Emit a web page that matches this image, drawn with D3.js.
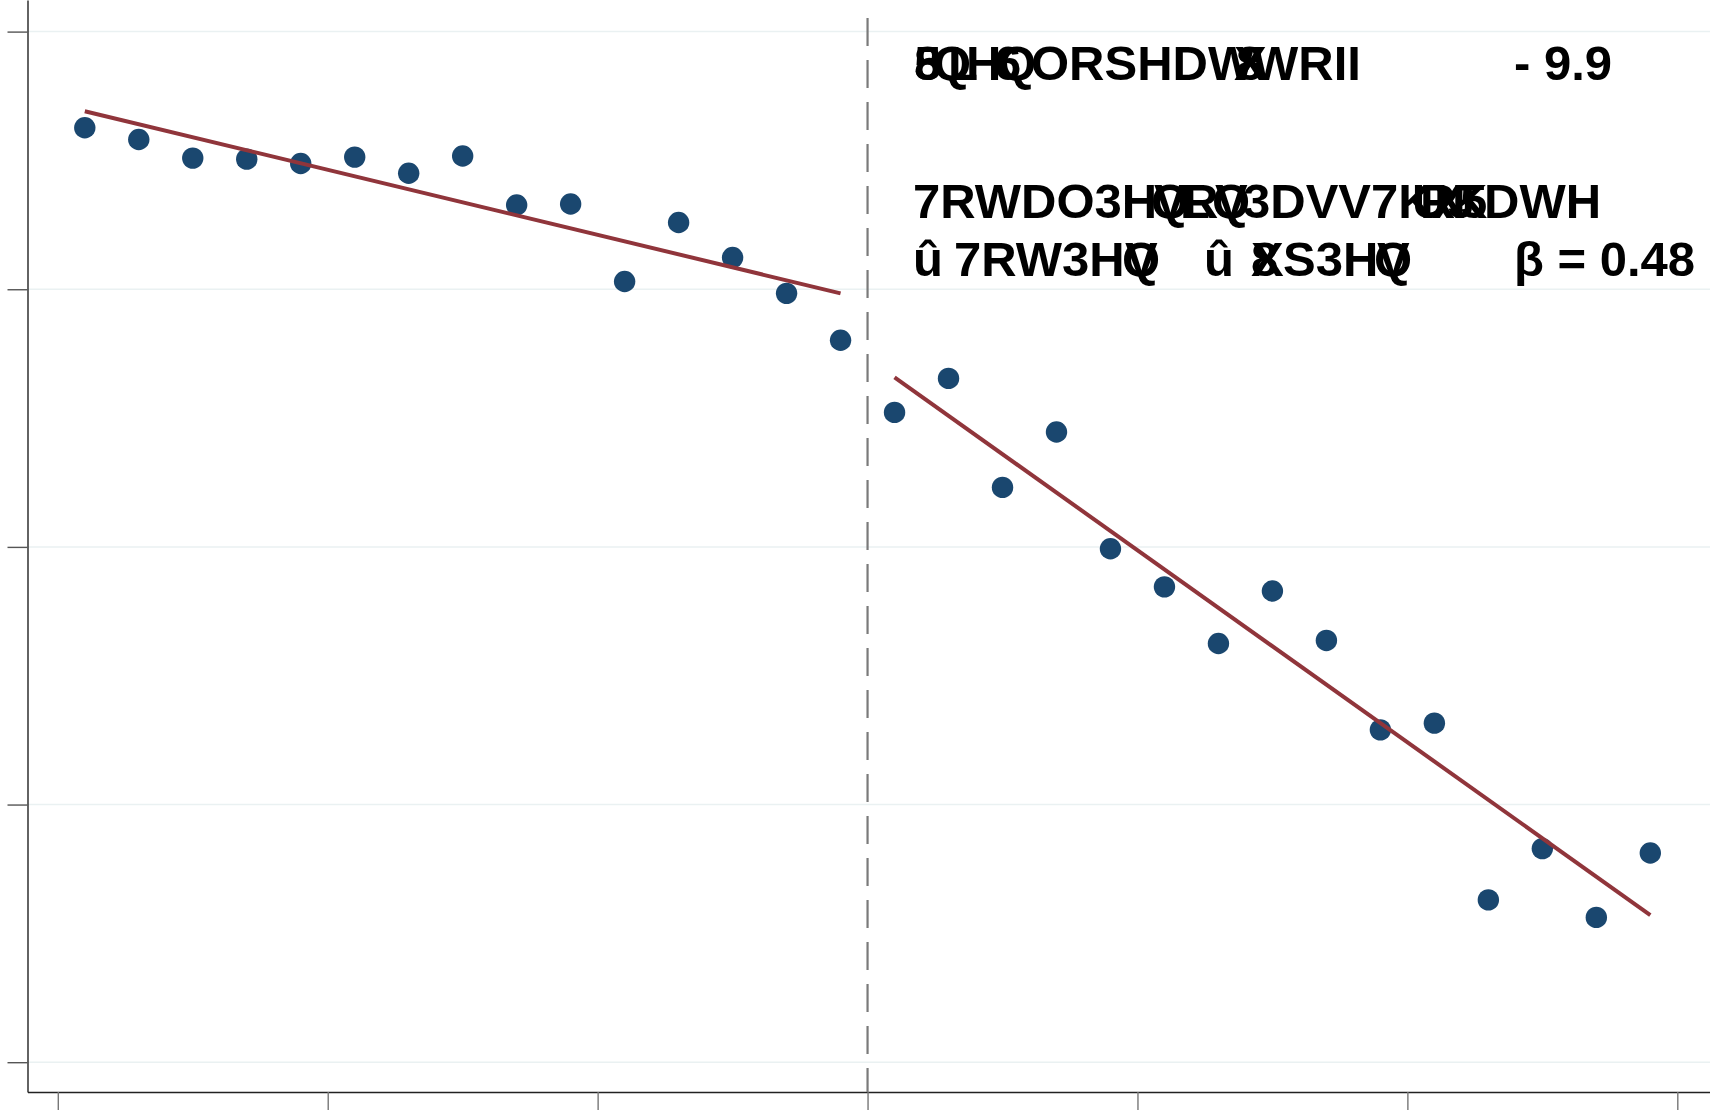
<!DOCTYPE html>
<html>
<head>
<meta charset="utf-8">
<script src="https://cdn.jsdelivr.net/npm/d3@7"></script>
<style>
  html, body { margin: 0; padding: 0; background: #fff; }
  svg { display: block; }
  text { font-family: "Liberation Sans", Arial, Helvetica, sans-serif; font-weight: bold; }
</style>
</head>
<body>
<svg id="chart" width="1710" height="1110"></svg>
<script>
// ---- data ----
const binsLeft  = [-14.5, -13.5, -12.5, -11.5, -10.5, -9.5, -8.5, -7.5, -6.5, -5.5, -4.5, -3.5, -2.5, -1.5, -0.5];
const valuesLeft = [3.627, 3.581, 3.509, 3.505, 3.488, 3.513, 3.450, 3.517, 3.327, 3.331, 3.030, 3.259, 3.123, 2.984, 2.802];
const binsRight = [0.5, 1.5, 2.5, 3.5, 4.5, 5.5, 6.5, 7.5, 8.5, 9.5, 10.5, 11.5, 12.5, 13.5, 14.5];
const valuesRight = [2.522, 2.654, 2.231, 2.446, 1.993, 1.845, 1.625, 1.829, 1.637, 1.290, 1.316, 0.630, 0.829, 0.562, 0.812];
const fitLeftX = [-14.5, -0.5];
const fitLeftY = [3.691, 2.984];
const fitRightX = [0.5, 14.5];
const fitRightY = [2.658, 0.571];
const xTicks = [-15, -10, -5, 0, 5, 10, 15];
const yTicks = [0, 1, 2, 3, 4];
const cutoff = [0];

// ---- layout ----
const svg = d3.select("#chart");
const x = d3.scaleLinear().domain([-15, 15]).range([57.8, 1677.3]);
const y = d3.scaleLinear().domain([0, 4]).range([1062.2, 31.6]);
const axisLeftX = 27.5, axisBottomY = 1092;

// gridlines
svg.append("g").selectAll("line").data(yTicks).join("line")
  .attr("x1", axisLeftX).attr("x2", 1710)
  .attr("y1", d => y(d)).attr("y2", d => y(d))
  .attr("stroke", "#eaf1f2").attr("stroke-width", 1.5);

// y axis
const yAxisScale = d3.scaleLinear().domain([y.invert(axisBottomY), y.invert(0)]).range([axisBottomY, 0]);
const gy = svg.append("g").attr("transform", `translate(${axisLeftX},0)`)
  .call(d3.axisLeft(yAxisScale).tickValues(yTicks).tickFormat("").tickSize(20).tickSizeOuter(0));
gy.select(".domain").attr("stroke", "#222").attr("stroke-width", 1.4);
gy.selectAll(".tick line").attr("stroke", "#555").attr("stroke-width", 1.4);

// x axis
const xAxisScale = d3.scaleLinear().domain([x.invert(axisLeftX), x.invert(1710)]).range([axisLeftX, 1710]);
const gx = svg.append("g").attr("transform", `translate(0,${axisBottomY})`)
  .call(d3.axisBottom(xAxisScale).tickValues(xTicks).tickFormat("").tickSize(18).tickSizeOuter(0));
gx.select(".domain").attr("stroke", "#222").attr("stroke-width", 1.4);
gx.selectAll(".tick line").attr("stroke", "#777").attr("stroke-width", 1.4);

// cutoff dashed line
svg.append("g").selectAll("line").data(cutoff).join("line")
  .attr("x1", d => x(d)).attr("x2", d => x(d))
  .attr("y1", 18).attr("y2", axisBottomY)
  .attr("stroke", "#7a7a7a").attr("stroke-width", 2.2)
  .attr("stroke-dasharray", "28,14");

// points
const pts = binsLeft.map((b, i) => [b, valuesLeft[i]]).concat(binsRight.map((b, i) => [b, valuesRight[i]]));
svg.append("g").selectAll("circle").data(pts).join("circle")
  .attr("cx", d => x(d[0])).attr("cy", d => y(d[1])).attr("r", 10.7)
  .attr("fill", "#1a476f");

// fit lines
const line = d3.line().x(d => x(d[0])).y(d => y(d[1]));
[[fitLeftX, fitLeftY], [fitRightX, fitRightY]].forEach(([fx, fy]) => {
  svg.append("path").datum(fx.map((v, i) => [v, fy[i]]))
    .attr("d", line).attr("fill", "none")
    .attr("stroke", "#90353b").attr("stroke-width", 4);
});

// annotation text (glyphs rendered as they appear in the reference)
const fs = 49;
const glyphs = [
  // line 1
  ["5", 914, 80], ["8", 914, 80], ["Q", 933, 80], ["L", 948, 80], ["H", 966, 80],
  ["6", 994, 80], ["Q", 998, 80], ["ORSHDW", 1031, 80], ["X", 1234, 80], ["8", 1236, 80],
  ["WRII", 1252, 80], ["- 9.9", 1514, 80],
  // line 2
  ["7RWDO3H", 913, 218], ["Q", 1151, 218], ["V", 1154, 218], ["L", 1180, 218], ["R", 1183, 218],
  ["Q", 1212, 218], ["V", 1215, 218], ["3DVV7K", 1243, 218], ["U", 1412, 218], ["R", 1420, 218],
  ["X", 1432, 218], ["J", 1448, 218], ["K", 1452, 218], ["5", 1460, 218], ["DWH", 1484, 218],
  // line 3
  ["û", 913, 276], ["7RW3H", 954, 276], ["Q", 1122, 276], ["V", 1125, 276],
  ["û", 1204, 276], ["X", 1251, 276], ["8", 1251, 276], ["S3H", 1283, 276], ["Q", 1374, 276], ["V", 1377, 276],
  ["β = 0.48", 1514, 276]
];
svg.append("g").selectAll("text").data(glyphs).join("text")
  .attr("x", d => d[1]).attr("y", d => d[2])
  .attr("font-size", fs).attr("fill", "#000")
  .text(d => d[0]);
</script>
</body>
</html>
